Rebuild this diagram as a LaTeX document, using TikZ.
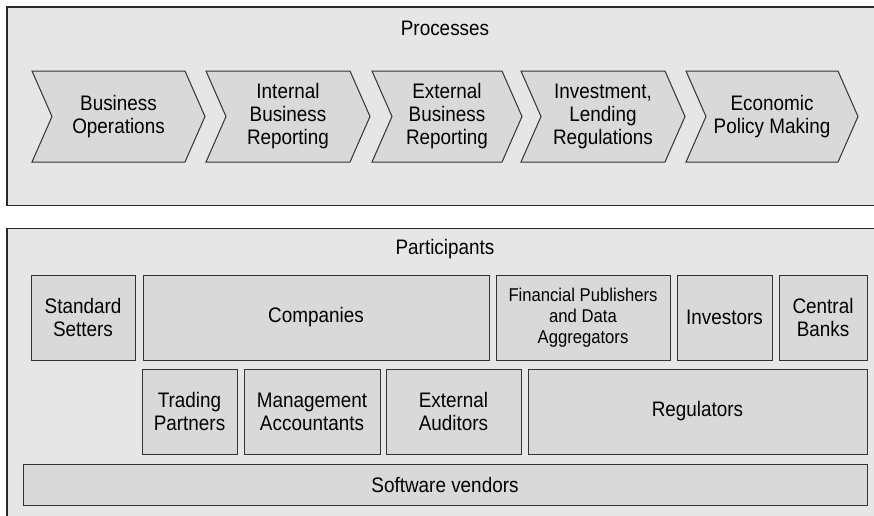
\documentclass[tikz,border=0pt]{standalone}
\usepackage{fontspec}
\setmainfont{Liberation Sans}[FakeStretch=0.9]
\usepackage{tikz}

\definecolor{flaeche}{HTML}{E6E6E6}
\definecolor{kastengrau}{HTML}{D9D9D9}
\definecolor{linie}{HTML}{333333}

\tikzset{
    rahmen/.style={draw=linie!80!black, fill=flaeche, line width=1.4pt},
    pfeil/.style={draw=linie, fill=kastengrau, line width=1pt},
    kasten/.style={draw=linie, fill=kastengrau, line width=1pt, inner sep=0pt, align=center,
        font=\fontsize{21}{23}\selectfont},
    beschr/.style={align=center, font=\fontsize{21}{23}\selectfont},
}

\begin{document}
\begin{tikzpicture}[x=1pt, y=-1pt]
            \useasboundingbox (0,0) rectangle (874,515);
            
            % Rahmen.
            \draw[rahmen] (7,7) rectangle (890,205.5);
            \draw[rahmen] (7,228.5) rectangle (890,530);
            \node[beschr, anchor=base] (proz) at (445,35) {Processes};
            \node[beschr, anchor=base] (teil) at (445,254) {Participants};
            
            % Prozesse.
            \foreach \a/\b/\name/\txt in {32/185/bo/{Business\\Operations},
                206/350/ibr/{Internal\\Business\\Reporting},
                372/502/ebr/{External\\Business\\Reporting},
                521/665/ilr/{Investment,\\Lending\\Regulations},
                686/838/epm/{Economic\\Policy Making}}
            {
                \draw[pfeil] (\a,71) -- (\b,71) -- (\b+20,116.5) -- (\b,162) -- (\a,162) -- (\a+20,116.5) -- cycle;
                \node[beschr] (\name) at ({(\a+\b)/2+10},116.5) {\txt};
            }
            
            % Beteiligte.
            \node[kasten, minimum width=104pt, minimum height=85pt] (ss) at (83,317.5) {Standard\\Setters};
            \node[kasten, minimum width=346pt, minimum height=85pt] (comp) at (316,317.5) {Companies};
            \node[kasten, minimum width=174pt, minimum height=85pt,
                font=\fontsize{18.5}{21}\selectfont] (fin) at (583,317.5) {Financial Publishers\\and Data\\Aggregators};
            \node[kasten, minimum width=95pt, minimum height=85pt] (inv) at (724.5,317.5) {Investors};
            \node[kasten, minimum width=88pt, minimum height=85pt] (cb) at (823,317.5) {Central\\Banks};
            
            \node[kasten, minimum width=95pt, minimum height=85pt] (tp) at (189.5,411.5) {Trading\\Partners};
            \node[kasten, minimum width=136pt, minimum height=85pt] (ma) at (312,411.5) {Management\\Accountants};
            \node[kasten, minimum width=135pt, minimum height=85pt] (ea) at (453.5,411.5) {External\\Auditors};
            \node[kasten, minimum width=339pt, minimum height=85pt] (reg) at (697.5,411.5) {Regulators};
            
            \node[kasten, minimum width=844pt, minimum height=41pt] (sv) at (445,484.5) {Software vendors};
        \end{tikzpicture}
\end{document}
